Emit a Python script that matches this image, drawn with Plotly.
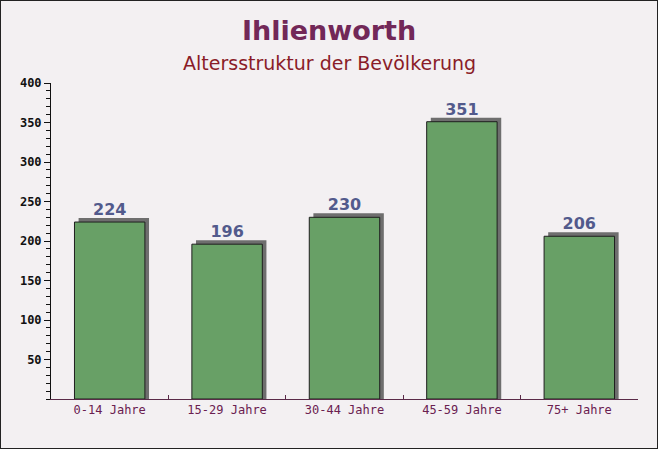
import plotly.graph_objects as go

# Altersstruktur Ihlienworth
age_groups = ['0-14 Jahre', '15-29 Jahre', '30-44 Jahre', '45-59 Jahre', '75+ Jahre']
population = [224, 196, 230, 351, 206]

bar_width = 0.6
shadow_shift = 0.035  # category units (~4px)
shadow_lift = 5       # data units (~4px)

fig = go.Figure()

# drop shadow behind each bar
fig.add_trace(go.Bar(
    x=age_groups,
    y=[v + shadow_lift for v in population],
    width=bar_width,
    offset=-bar_width / 2 + shadow_shift,
    marker=dict(color='#6e6e6e', line=dict(width=0)),
    hoverinfo='skip',
    showlegend=False,
))

fig.add_trace(go.Bar(
    x=age_groups,
    y=population,
    width=bar_width,
    offset=-bar_width / 2,
    marker=dict(color='#68a066', line=dict(color='#1e1e1e', width=1)),
    text=[str(v) for v in population],
    textposition='outside',
    textfont=dict(family='DejaVu Sans', size=16, color='#525a8c', weight='bold'),
    cliponaxis=False,
    showlegend=False,
))

title_x = (329 - 51) / 587  # centred on the whole image, not the plot area

fig.update_layout(
    width=658,
    height=449,
    margin=dict(l=51, r=20, t=83, b=50),
    paper_bgcolor='#f3f0f2',
    plot_bgcolor='rgba(0,0,0,0)',
    barmode='overlay',
    annotations=[
        dict(text='<b>Ihlienworth</b>', xref='paper', yref='paper', x=title_x, y=1,
             xanchor='center', yanchor='middle', yshift=53, showarrow=False,
             font=dict(family='DejaVu Sans', size=27, color='#722858')),
        dict(text='Altersstruktur der Bevölkerung', xref='paper', yref='paper', x=title_x, y=1,
             xanchor='center', yanchor='middle', yshift=20, showarrow=False,
             font=dict(family='DejaVu Sans', size=19, color='#8a1c28')),
    ],
    shapes=[
        dict(type='rect', xref='paper', yref='paper', x0=-51/587, x1=1+20/587,
             y0=-50/316, y1=1+83/316, line=dict(color='#222222', width=2)),
    ],
)

fig.update_xaxes(
    showline=True, linecolor='#5a2a48', linewidth=1,
    ticks='inside', tickson='boundaries', ticklen=4, tickcolor='#5a2a48',
    tickfont=dict(family='DejaVu Sans Mono', size=12, color='#6a2050'),
    showgrid=False,
)
fig.update_yaxes(
    range=[0, 400],
    showline=True, linecolor='#111111', linewidth=1,
    ticks='outside', ticklen=6, tickcolor='#111111',
    minor=dict(dtick=10, ticks='outside', ticklen=4, tickcolor='#111111'),
    tickfont=dict(family='DejaVu Sans Mono', size=12, color='#111111', weight='bold'),
    showgrid=False, zeroline=False,
    tickvals=[50, 100, 150, 200, 250, 300, 350, 400],
)

fig.write_html('out.html', config={'displayModeBar': False},
               post_script="document.body.style.margin='0';")
